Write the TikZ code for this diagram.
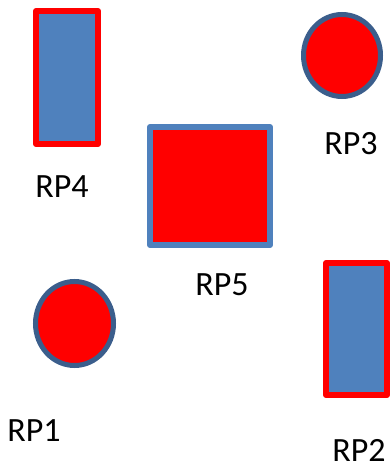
\documentclass[tikz,border=0pt]{standalone}
\usepackage{fontspec}
\setmainfont{Carlito}
\definecolor{pblue}{HTML}{4F81BD}
\definecolor{pred}{HTML}{FF0000}
\definecolor{pdark}{HTML}{3B5E8C}
\begin{document}
\begin{tikzpicture}[x=1pt,y=-1pt,
  bluebox/.style={fill=pblue,draw=pred,line width=6pt,line join=round},
  redbox/.style={fill=pred,draw=pblue,line width=6pt,line join=round},
  reddot/.style={fill=pred,draw=pdark,line width=5pt},
  lbl/.style={inner sep=0pt,font=\fontsize{34}{40}\selectfont}]
\useasboundingbox (0,0) rectangle (390,465);
\draw[bluebox] (36,11) rectangle (98,144);
\draw[bluebox] (326,263) rectangle (387,395);
\draw[redbox] (150,127) rectangle (270,245);
\draw[reddot] (342,55.5) ellipse [x radius=38.5,y radius=41];
\draw[reddot] (74.5,323.5) ellipse [x radius=39,y radius=42];
\node[lbl] (rp4) at (62,187) {RP4};
\node[lbl] (rp3) at (351,144) {RP3};
\node[lbl] (rp5) at (222,285) {RP5};
\node[lbl] (rp1) at (34,431) {RP1};
\node[lbl] (rp2) at (359,450.5) {RP2};
\end{tikzpicture}
\end{document}
